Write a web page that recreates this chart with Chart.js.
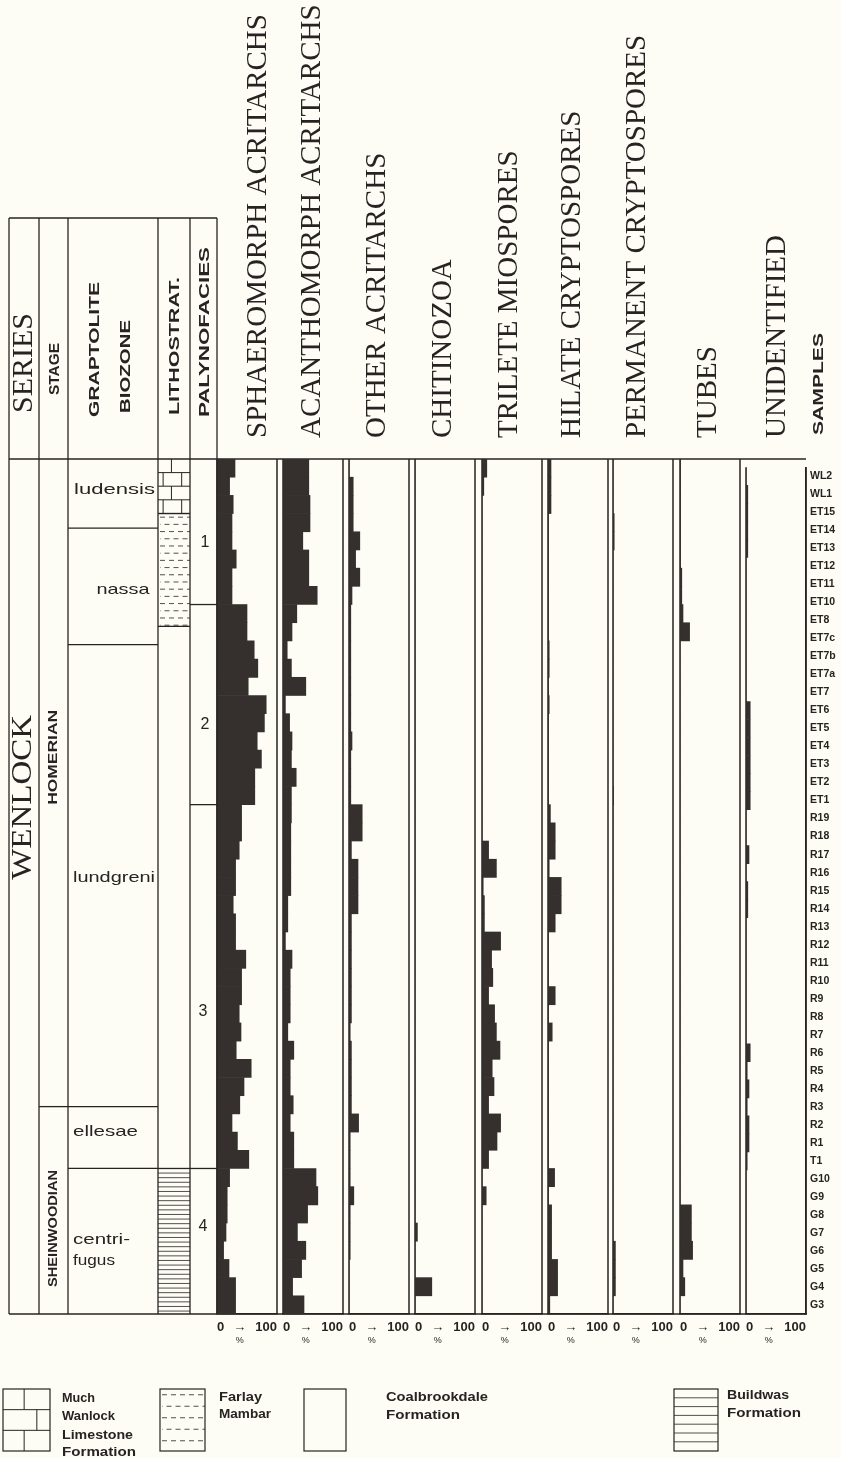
<!DOCTYPE html>
<html>
<head>
<meta charset="utf-8">
<script src="https://cdn.jsdelivr.net/npm/chart.js@4.4.1/dist/chart.umd.min.js"></script>
<style>
body { margin: 0; background: #fdfdf6; }
#page { position: relative; width: 841px; height: 1458px; overflow: hidden; }
#page canvas { position: absolute; }
</style>
</head>
<body>
<div id="page"><canvas id="bg" width="841" height="1458" style="left:0;top:0"></canvas></div>
<script>
// samples, top of the section first
var samples = ['WL2','WL1','ET15','ET14','ET13','ET12','ET11','ET10','ET8','ET7c','ET7b','ET7a','ET7',
  'ET6','ET5','ET4','ET3','ET2','ET1','R19','R18','R17','R16','R15','R14','R13','R12','R11','R10',
  'R9','R8','R7','R6','R5','R4','R3','R2','R1','T1','G10','G9','G8','G7','G6','G5','G4','G3'];

// percentages per sample
var sphaeromorph = [30,21,27,25,25,32,25,25,50,50, 62,68,52,82,79,67,74,63,63,41,
  41,37,31,31,27,31,31,48,41,41, 37,40,32,57,45,38,25,34,53,21, 17,17,15,11,20,31,31];
var acanthomorph = [43,43,45,45,33,43,43,57,23,15, 7,14,38,4,11,15,14,22,14,14,
  13,13,13,13,8,8,4,15,12,12, 12,8,18,12,12,17,12,18,18,55, 58,41,24,38,31,16,35];
var otherAcritarchs = [0,7,7,7,18,11,18,5,3,3, 3,3,3,3,3,5,3,3,3,22,
  22,4,15,15,15,4,4,4,4,4, 4,2,4,4,4,4,16,2,2,2, 8,2,2,2,0,0,0];
var chitinozoa = [0,0,0,0,0,0,0,0,0,0, 0,0,0,0,0,0,0,0,0,0,
  0,0,0,0,0,0,0,0,0,0, 0,0,0,0,0,0,0,0,0,0, 0,0,4,0,0,28,0];
var triletes = [8,3,0,0,0,0,0,0,0,0, 0,0,0,0,0,0,0,0,0,0,
  0,11,24,2,4,4,31,16,18,11, 21,24,30,17,20,11,31,25,11,0, 7,0,0,0,0,0,0];
var hilate = [5,5,5,1,1,1,1,1,1,1, 2,2,1,2,1,1,1,1,1,4,
  12,12,2,22,22,12,1,1,1,12, 1,7,1,1,1,1,1,1,1,11, 1,6,6,6,16,16,3];
var permanent = [0,0,0,2,2,0,0,0,0,0, 0,0,0,0,0,0,0,0,1,0,
  0,0,0,0,0,0,0,0,0,0, 0,0,0,0,0,0,0,0,0,0, 0,0,0,4,4,4,0];
var tubes = [1,1,1,1,1,1,3,3,5,16, 0,0,0,0,0,0,0,0,0,0,
  0,0,0,0,0,0,0,0,0,0, 0,0,0,0,0,0,0,0,0,0, 0,19,19,21,5,8,0];
var unidentified = [0,3,3,3,3,0,0,0,0,0, 0,0,0,7,7,7,7,7,7,0,
  0,5,0,3,3,0,0,0,0,0, 0,0,7,2,5,2,5,5,2,0, 0,0,0,0,0,0,0];

var panelTitles = ['SPHAEROMORPH ACRITARCHS','ACANTHOMORPH ACRITARCHS','OTHER ACRITARCHS','CHITINOZOA',
  'TRILETE MIOSPORES','HILATE CRYPTOSPORES','PERMANENT CRYPTOSPORES','TUBES','UNIDENTIFIED'];
var panelData = [sphaeromorph, acanthomorph, otherAcritarchs, chitinozoa, triletes, hilate, permanent, tubes, unidentified];

var xTickValues = [0, 38, 100];
var xTickLabels = ['0', '\u2192', '100'];

// zone limits, in sample rows from the top
var stages = ['HOMERIAN', 'SHEINWOODIAN'];
var stageBounds = [0, 35.6, 47];
var biozones = ['ludensis', 'nassa', 'lundgreni', 'ellesae', 'centrifugus'];
var biozoneBounds = [0, 3.8, 10.2, 35.6, 39, 47];
var lithostrat = ['Much Wanlock Limestone Formation', 'Farlay Mambar', 'Coalbrookdale Formation', 'Buildwas Formation'];
var lithoBounds = [0, 3.0, 9.2, 39, 47];
var palynofacies = ['1', '2', '3', '4'];
var palynoBounds = [0, 8, 19, 39, 47];

// ---- layout ----
var INK = '#272322', BAR = '#35302e';
var SANS = '"Liberation Sans", Arial, sans-serif';
var SERIF = '"Liberation Serif", "Times New Roman", serif';
var TOP = 459, AREA_H = 855, AXIS_H = 34, PAD = 2;
var PANEL_W = 60, SAMPLE_W = 36;
var panelLeft = [217, 283, 349, 415, 482, 548, 613, 680, 746];
var titleX = [258, 312, 377, 443, 509, 572, 637, 708, 777];

var page = document.getElementById('page');

// panel side lines, and the % sign under the arrow tick
var frame = {
  id: 'frame',
  afterDraw: function(chart) {
    var a = chart.chartArea, c = chart.ctx;
    c.save();
    c.strokeStyle = INK;
    c.lineWidth = 1.5;
    c.beginPath();
    c.moveTo(a.left, a.top); c.lineTo(a.left, a.bottom);
    c.moveTo(a.right, a.top); c.lineTo(a.right, a.bottom);
    c.stroke();
    c.fillStyle = INK;
    c.font = '9px ' + SANS;
    c.textAlign = 'center';
    c.textBaseline = 'middle';
    c.fillText('%', chart.scales.x.getPixelForValue(xTickValues[1]), a.bottom + 27);
    c.restore();
  }
};

function panelChart(i) {
  var last = i === panelLeft.length - 1;
  var cv = document.createElement('canvas');
  cv.width = PANEL_W + 2 * PAD + (last ? SAMPLE_W : 0);
  cv.height = PAD + AREA_H + AXIS_H;
  cv.style.left = (panelLeft[i] - PAD) + 'px';
  cv.style.top = (TOP - PAD) + 'px';
  page.appendChild(cv);
  return new Chart(cv, {
    type: 'bar',
    data: {
      labels: samples,
      datasets: [{
        label: panelTitles[i],
        data: panelData[i],
        backgroundColor: BAR,
        borderWidth: 0,
        barPercentage: 1,
        categoryPercentage: 1
      }]
    },
    options: {
      indexAxis: 'y',
      responsive: false,
      animation: false,
      layout: { padding: { left: PAD, right: PAD, top: PAD, bottom: 0 } },
      plugins: { legend: { display: false }, tooltip: { enabled: false } },
      scales: {
        x: {
          min: 0, max: 100,
          afterBuildTicks: function(ax) { ax.ticks = xTickValues.map(function(v) { return { value: v }; }); },
          afterFit: function(ax) { ax.height = AXIS_H; },
          ticks: {
            autoSkip: false, maxRotation: 0, align: 'inner', padding: 0, color: INK,
            font: { family: SANS, weight: 'bold', size: 13 },
            callback: function(v, idx) { return xTickLabels[idx]; }
          },
          grid: { display: true, drawOnChartArea: false, drawTicks: true, tickLength: 6, color: 'rgba(0,0,0,0)' },
          border: { display: true, color: INK, width: 1.5 }
        },
        y: {
          type: 'category',
          display: last,
          position: 'right',
          afterFit: function(ax) { ax.width = last ? SAMPLE_W : 0; },
          ticks: { autoSkip: false, padding: 4, color: INK, font: { family: SANS, weight: 'bold', size: 10.5 } },
          grid: { display: false, drawTicks: false },
          border: { display: true, color: INK, width: 1.5 }
        }
      }
    },
    plugins: [frame]
  });
}

var charts = [];
for (var i = 0; i < panelLeft.length; i++) charts.push(panelChart(i));

// ---- column table, titles and legend on the page canvas ----
var bg = document.getElementById('bg').getContext('2d');
var yRef = charts[0].scales.y;
function yAt(row) { return TOP - PAD + yRef.getPixelForValue(row - 0.5); }

function line(x1, y1, x2, y2, w) {
  bg.beginPath();
  bg.lineWidth = w || 1.3;
  bg.strokeStyle = INK;
  bg.moveTo(x1, y1); bg.lineTo(x2, y2);
  bg.stroke();
}

function txt(s, x, y, o) {
  bg.save();
  bg.translate(x, y);
  if (o.up) bg.rotate(-Math.PI / 2);
  bg.font = o.font;
  bg.fillStyle = INK;
  bg.textBaseline = 'middle';
  bg.textAlign = o.align || 'left';
  if (o.len) bg.scale(o.len / bg.measureText(s).width, 1);
  bg.fillText(s, 0, 0);
  bg.restore();
}

function bricks(x0, y0, x1, y1, rowH, evenJ, oddJ) {
  bg.save();
  bg.beginPath(); bg.rect(x0, y0, x1 - x0, y1 - y0); bg.clip();
  var w = x1 - x0;
  for (var r = 0, y = y0; y < y1; y += rowH, r++) {
    if (r > 0) line(x0, y, x1, y, 1);
    var js = r % 2 ? oddJ : evenJ;
    js.forEach(function(f) { line(x0 + f * w, y, x0 + f * w, y + rowH, 1); });
  }
  bg.restore();
}

function dashes(x0, y0, x1, y1, rowH) {
  bg.save();
  bg.beginPath(); bg.rect(x0, y0, x1 - x0, y1 - y0); bg.clip();
  bg.setLineDash([5, 4]);
  for (var r = 0, y = y0 + rowH / 2; y < y1; y += rowH, r++) {
    bg.lineDashOffset = r % 2 ? 4.5 : 0;
    line(x0 + 2, y, x1, y, 0.8);
  }
  bg.restore();
}

function hatch(x0, y0, x1, y1, step) {
  for (var y = y0 + step; y < y1 - 1; y += step) line(x0, y, x1, y, 0.8);
}

var COL = [9, 39, 68, 158, 190, 217];
var HEAD_TOP = 218;
var yTop = yAt(0), yBot = yAt(samples.length);

line(COL[0], HEAD_TOP, COL[5], HEAD_TOP, 1.3);
line(COL[0], yTop, 806, yTop, 1.5);
line(COL[0], yBot, 806, yBot, 1.5);
COL.forEach(function(x) { line(x, HEAD_TOP, x, yBot, 1.3); });

stageBounds.slice(1, -1).forEach(function(b) { line(COL[1], yAt(b), COL[2], yAt(b)); });
biozoneBounds.slice(1, -1).forEach(function(b) { line(COL[2], yAt(b), COL[3], yAt(b)); });
lithoBounds.slice(1, -1).forEach(function(b) { line(COL[3], yAt(b), COL[4], yAt(b)); });
palynoBounds.slice(1, -1).forEach(function(b) { line(COL[4], yAt(b), COL[5], yAt(b)); });

// lithology fills
bricks(COL[3], yAt(lithoBounds[0]), COL[4], yAt(lithoBounds[1]), 13.6, [0.42], [0.16, 0.74]);
dashes(COL[3], yAt(lithoBounds[1]), COL[4], yAt(lithoBounds[2]), 7.2);
hatch(COL[3], yAt(lithoBounds[3]), COL[4], yAt(lithoBounds[4]), 4.6);

// header texts
txt('SERIES', 24, 413, { up: true, font: '30px ' + SERIF, len: 100 });
txt('STAGE', 55, 395, { up: true, font: 'bold 14px ' + SANS, len: 52 });
txt('GRAPTOLITE', 95, 417, { up: true, font: 'bold 14px ' + SANS, len: 135 });
txt('BIOZONE', 126, 413, { up: true, font: 'bold 14px ' + SANS, len: 93 });
txt('LITHOSTRAT.', 175, 415, { up: true, font: 'bold 14px ' + SANS, len: 138 });
txt('PALYNOFACIES', 205, 417, { up: true, font: 'bold 14px ' + SANS, len: 170 });
txt('SAMPLES', 819, 435, { up: true, font: 'bold 14px ' + SANS, len: 102 });
panelTitles.forEach(function(t, k) {
  txt(t, titleX[k], 438, { up: true, font: '29px ' + SERIF });
});

// table body texts
txt('WENLOCK', 23, yAt(18.6), { up: true, align: 'center', font: '30px ' + SERIF, len: 165 });
txt(stages[0], 53, yAt(16.4), { up: true, align: 'center', font: 'bold 13px ' + SANS, len: 95 });
txt(stages[1], 53, yAt(42.3), { up: true, align: 'center', font: 'bold 13px ' + SANS, len: 117 });
var zf = '15px ' + SANS;
txt(biozones[0], 74, yAt(1.7), { font: zf, len: 81 });
txt(biozones[1], 123, yAt(7.2), { align: 'center', font: zf, len: 53 });
txt(biozones[2], 73, yAt(23.0), { font: zf, len: 82 });
txt(biozones[3], 73, yAt(37.0), { font: zf, len: 65 });
txt('centri-', 73, yAt(42.9), { font: zf, len: 57 });
txt('fugus', 73, yAt(44.1), { font: zf, len: 42 });
var pf = '16px ' + SANS;
txt(palynofacies[0], 205, yAt(4.6), { align: 'center', font: pf });
txt(palynofacies[1], 205, yAt(14.6), { align: 'center', font: pf });
txt(palynofacies[2], 203, yAt(30.4), { align: 'center', font: pf });
txt(palynofacies[3], 203, yAt(42.2), { align: 'center', font: pf });

// legend
var lf = 'bold 13px ' + SANS;
var LY0 = 1389, LY1 = 1451;
function box(x0, x1) { bg.lineWidth = 1.2; bg.strokeStyle = INK; bg.strokeRect(x0, LY0, x1 - x0, LY1 - LY0); }
box(3, 50); bricks(3, LY0, 50, LY1, (LY1 - LY0) / 3, [0.45], [0.72]);
txt('Much', 62, 1398, { font: lf, len: 33 });
txt('Wanlock', 62, 1416, { font: lf, len: 53 });
txt('Limestone', 62, 1435, { font: lf, len: 71 });
txt('Formation', 62, 1452, { font: lf, len: 74 });
box(160, 205); dashes(160, LY0, 205, LY1, 11.5);
txt('Farlay', 219, 1397, { font: lf, len: 43 });
txt('Mambar', 219, 1414, { font: lf, len: 52 });
box(304, 346);
txt('Coalbrookdale', 386, 1397, { font: lf, len: 102 });
txt('Formation', 386, 1415, { font: lf, len: 74 });
box(674, 718); hatch(674, LY0, 718, LY1, 8.8);
txt('Buildwas', 727, 1395, { font: lf, len: 62 });
txt('Formation', 727, 1413, { font: lf, len: 74 });
</script>
</body>
</html>
